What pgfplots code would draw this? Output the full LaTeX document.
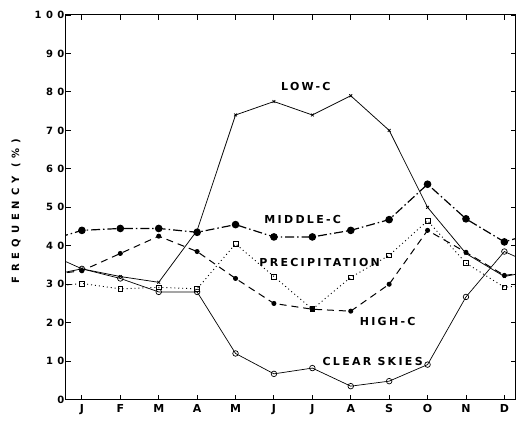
\documentclass[border=0pt]{standalone}
\usepackage{fontspec}
\setmainfont{DejaVu Sans}
\newfontfamily\lbl{DejaVu Sans}[LetterSpace=21]
\newfontfamily\tlbl{DejaVu Sans}[LetterSpace=45]
\newfontfamily\ylbl{DejaVu Sans}[LetterSpace=50]
\usepackage{pgfplots}
\pgfplotsset{compat=1.18}
\begin{document}
\begin{tikzpicture}[x=1bp,y=1bp]
\begin{axis}[at={(0,0)},anchor=south west, scale only axis,
 width=450bp, height=385bp,
 xmin=0.584, xmax=12.29, ymin=0, ymax=100,
 xtick={1,...,12}, xticklabels={J,F,M,A,M,J,J,A,S,O,N,D},
 ytick={0,10,...,100},
 tick align=inside, major tick length=5bp,
 tick style={line width=0.9pt,black},
 yticklabel style={font=\fontsize{10bp}{12bp}\tlbl\bfseries, xshift=2bp},
 xticklabel style={font=\fontsize{11bp}{12bp}\bfseries, yshift=-1.5bp},
 /pgf/number format/assume math mode=true,
 axis line style={line width=1pt},
 clip marker paths=true,
 ylabel={FREQUENCY (\%)},
 every axis y label/.style={at={(axis description cs:0,0.49)}, xshift=-50bp, rotate=90, anchor=center, font=\fontsize{10bp}{12bp}\ylbl\bfseries},
]
% LOW-C
\addplot[black, line width=0.75pt, mark=x, mark size=2pt] coordinates {
(0,32) (1,34) (2,32) (3,30.5) (4,44) (5,74) (6,77.5) (7,74) (8,79) (9,70) (10,50) (11,38) (12,32) (13,34)};
% MIDDLE-C
\addplot[black, line width=1.2pt, dash pattern=on 9pt off 3pt on 1.5pt off 3pt, mark=*, mark size=3.2pt, mark options={solid}] coordinates {
(0,41) (1,44) (2,44.5) (3,44.5) (4,43.5) (5,45.5) (6,42.3) (7,42.3) (8,44) (9,46.8) (10,56) (11,47) (12,41) (13,44)};
% HIGH-C
\addplot[black, line width=1pt, dash pattern=on 7pt off 5pt, mark=*, mark size=2pt, mark options={solid}] coordinates {
(0,32.3) (1,33.5) (2,38) (3,42.5) (4,38.5) (5,31.5) (6,25) (7,23.5) (8,23) (9,30) (10,44) (11,38.3) (12,32.3) (13,33.5)};
% PRECIPITATION
\addplot[black, line width=0.9pt, dash pattern=on 1pt off 3pt, mark=square, mark size=2.4pt, mark options={solid, fill=white, line width=0.7pt}] coordinates {
(0,29.2) (1,30.2) (2,28.8) (3,29.2) (4,28.8) (5,40.5) (6,32) (7,23.5) (8,31.8) (9,37.5) (10,46.5) (11,35.5) (12,29.2) (13,30.2)};
% CLEAR SKIES
\addplot[black, line width=0.7pt, mark=o, mark size=2.8pt, mark options={solid, fill=white}] coordinates {
(0,38.5) (1,34) (2,31.5) (3,28) (4,28) (5,12) (6,6.7) (7,8.2) (8,3.5) (9,4.8) (10,9.1) (11,26.7) (12,38.5) (13,34)};
\begin{scope}[every node/.style={font=\fontsize{11bp}{13bp}\lbl\bfseries, inner sep=0pt}]
\node at (axis cs:6.83,81.3) {LOW-C};
\node at (axis cs:6.75,46.8) {MIDDLE-C};
\node at (axis cs:7.19,35.6) {PRECIPITATION};
\node at (axis cs:8.96,20.3) {HIGH-C};
\node at (axis cs:8.57,10) {CLEAR SKIES};
\end{scope}
\end{axis}
\pgfresetboundingbox
\path[use as bounding box] (-66,-21) rectangle (450.5,400);
\end{tikzpicture}
\end{document}
